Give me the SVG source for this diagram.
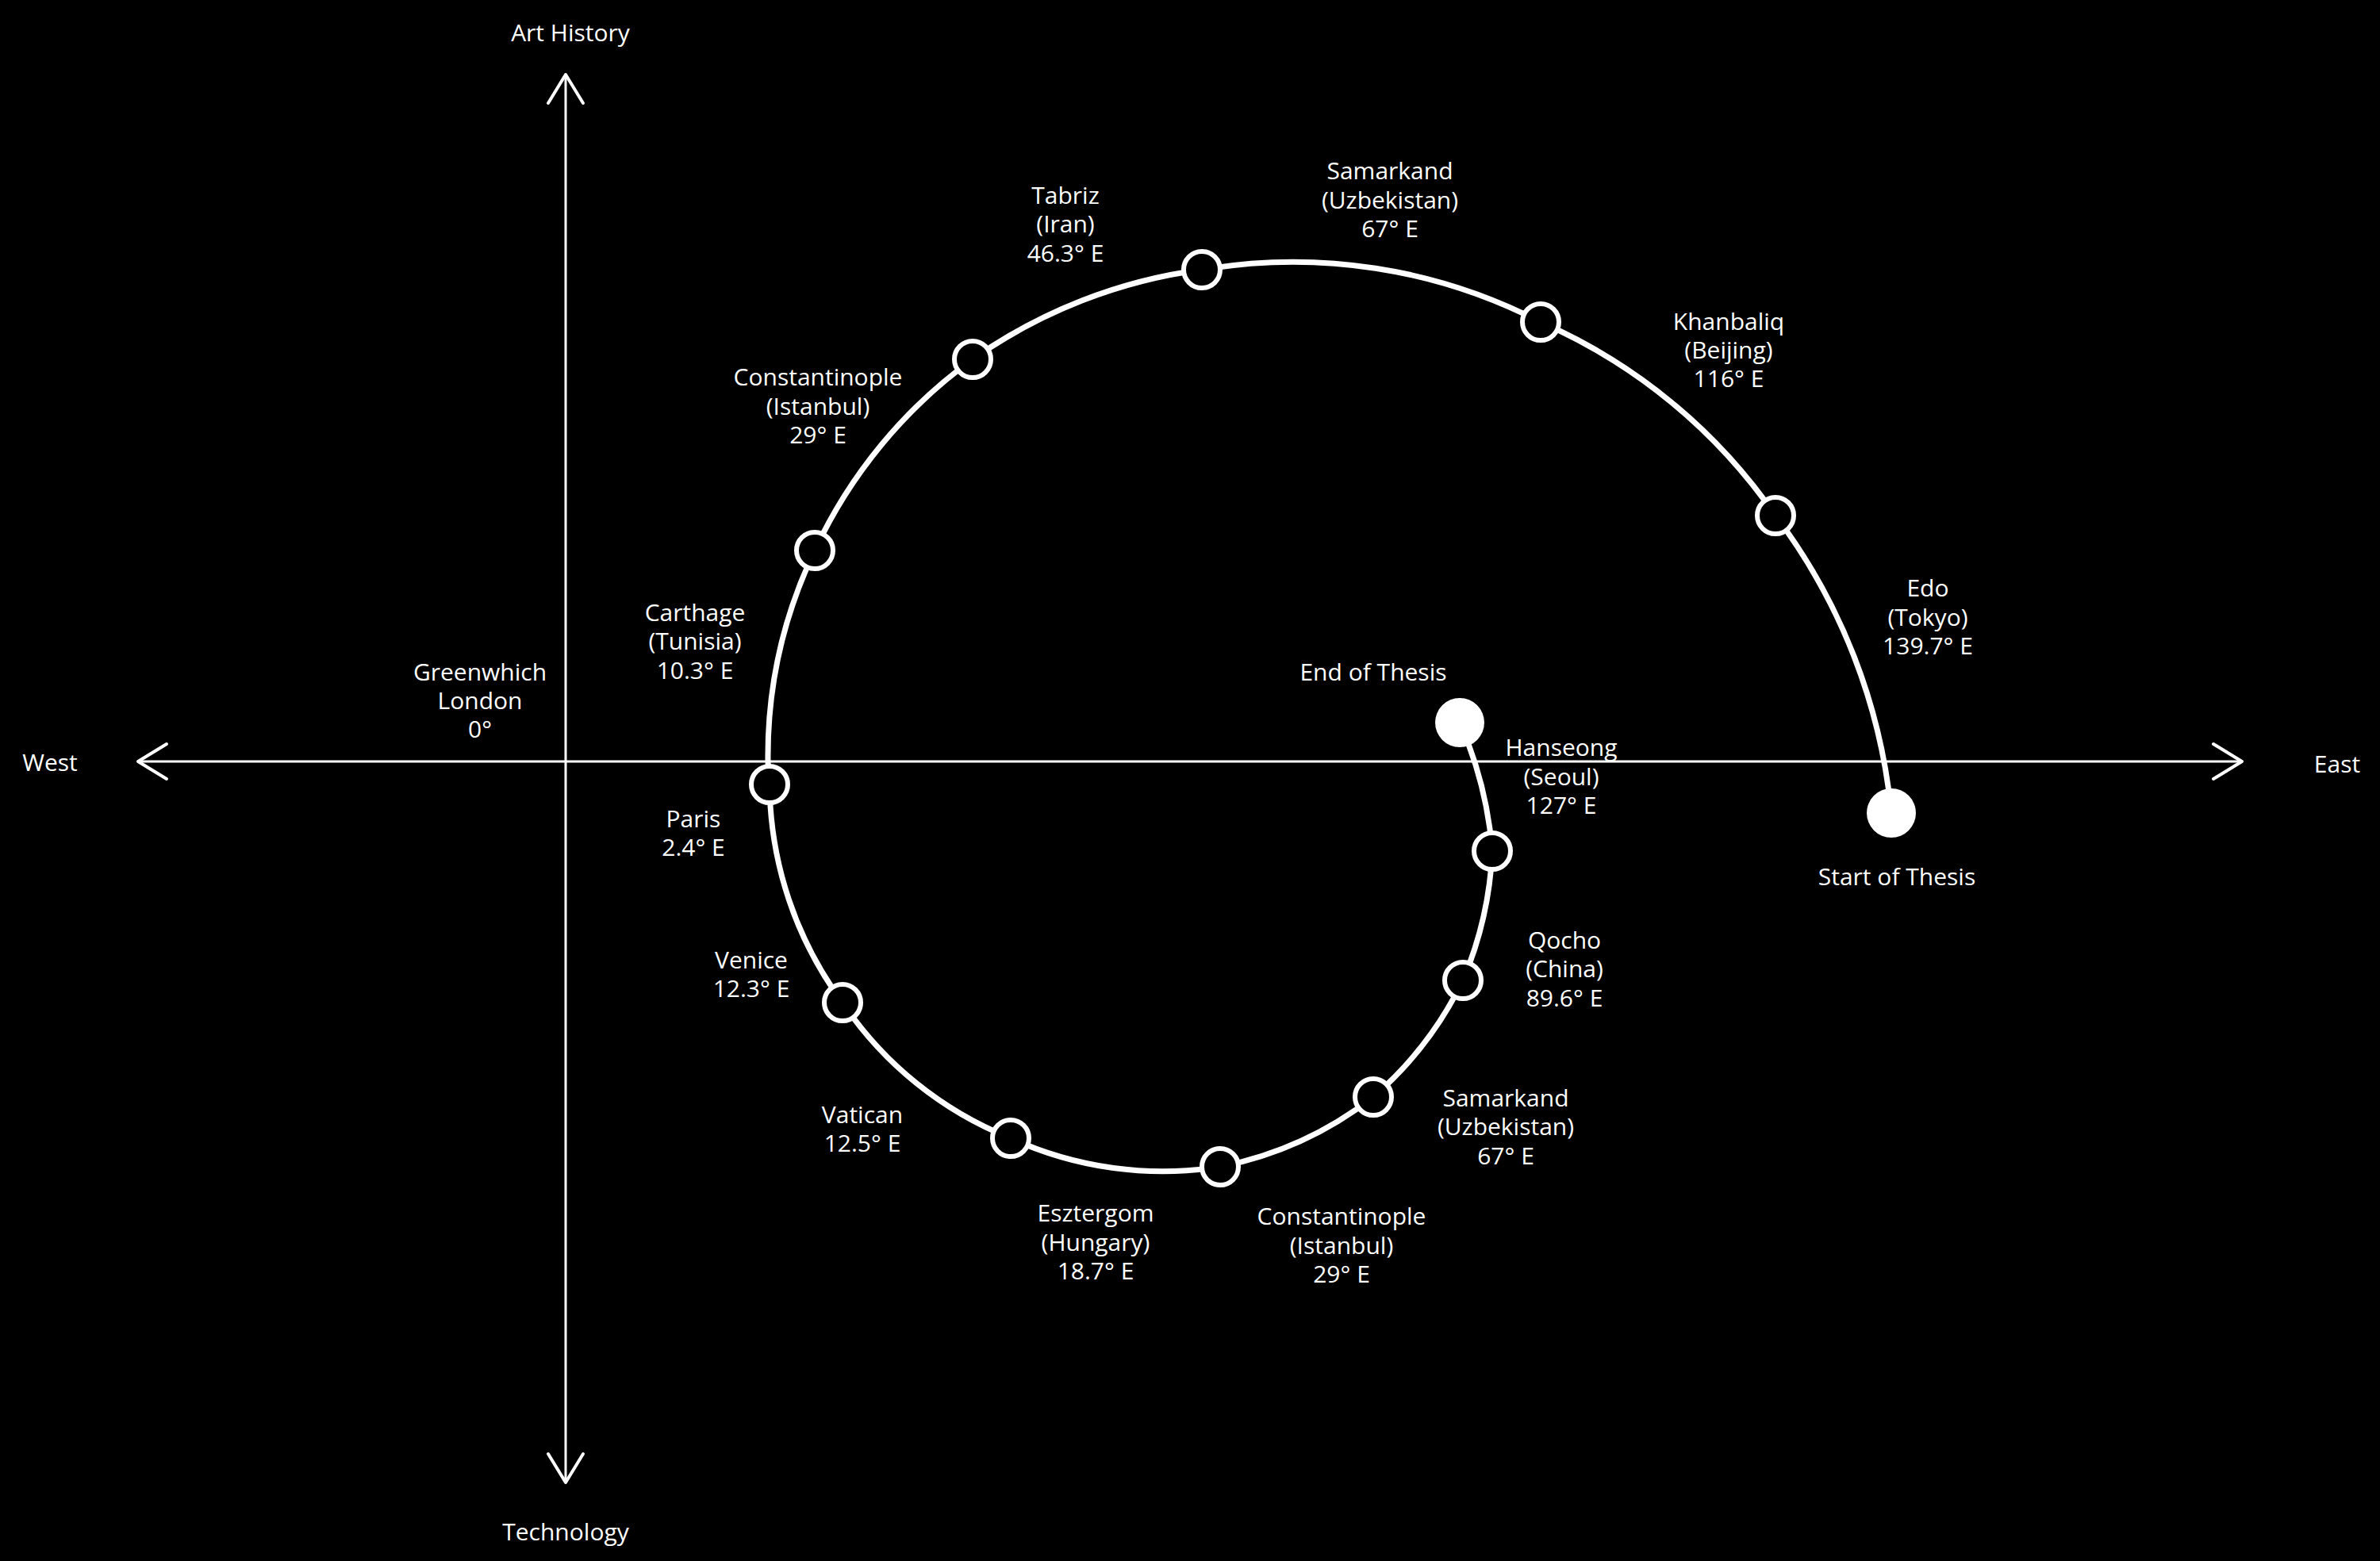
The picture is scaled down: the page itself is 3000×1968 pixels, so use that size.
<svg xmlns="http://www.w3.org/2000/svg" width="3000" height="1968" viewBox="0 0 3000 1968">
<style>
text{font-family:"Open Sans","Noto Sans",sans-serif;font-size:30px;fill:#fff;text-anchor:middle;dominant-baseline:central}
.ax{stroke:#fff;stroke-width:3;fill:none}
.hd{stroke:#fff;stroke-width:4;fill:none;stroke-linecap:round;stroke-linejoin:round}
.n{fill:#000;stroke:#fff;stroke-width:6}
.f{fill:#fff}
</style>
<rect width="3000" height="1968" fill="#000"/>
<g id="axes">
<line class="ax" x1="713" y1="94" x2="713" y2="1869"/>
<line class="ax" x1="174" y1="960" x2="2826" y2="960"/>
<polyline class="hd" points="691,130 713,94 735,130"/>
<polyline class="hd" points="691,1833 713,1869 735,1833"/>
<polyline class="hd" points="210,938 174,960 210,982"/>
<polyline class="hd" points="2790,938 2826,960 2790,982"/>
<text x="719" y="40">Art History</text>
<text x="713" y="1930">Technology</text>
<text x="63" y="960">West</text>
<text x="2946" y="962">East</text>
</g>
<g id="connectors">
<path fill="none" stroke="#fff" stroke-width="7" d="M2384,1025 A740,740 0 0 0 2238,650 A700,700 0 0 0 1942,406 A680,680 0 0 0 1515,340 A650,650 0 0 0 1226,453 A620,620 0 0 0 1027,694 A600,600 0 0 0 968,960 A500,500 0 0 0 970,989 A470,470 0 0 0 1062,1264 A460,460 0 0 0 1274,1435 A460,460 0 0 0 1538,1471 A460,460 0 0 0 1731,1383 A460,460 0 0 0 1844,1236 A470,470 0 0 0 1881,1073 A500,500 0 0 0 1840,911"/>
</g>
<g id="start"><circle class="f" cx="2384" cy="1025" r="31"/><text x="2391" y="1104">Start of Thesis</text></g>
<g id="end"><circle class="f" cx="1840" cy="911" r="31"/><text x="1731" y="846">End of Thesis</text></g>
<g id="greenwich"><text x="605" y="846">Greenwhich</text><text x="605" y="882">London</text><text x="605" y="918">0°</text></g>
<g id="edo"><text x="2430" y="740">Edo</text><text x="2430" y="777">(Tokyo)</text><text x="2430" y="813">139.7° E</text></g>
<g id="khanbaliq"><circle class="n" cx="2238" cy="650" r="23"/><text x="2179" y="404">Khanbaliq</text><text x="2179" y="440">(Beijing)</text><text x="2179" y="476">116° E</text></g>
<g id="samarkand1"><circle class="n" cx="1942" cy="406" r="23"/><text x="1752" y="214">Samarkand</text><text x="1752" y="251">(Uzbekistan)</text><text x="1752" y="287">67° E</text></g>
<g id="tabriz"><circle class="n" cx="1515" cy="340" r="23"/><text x="1343" y="245">Tabriz</text><text x="1343" y="281">(Iran)</text><text x="1343" y="318">46.3° E</text></g>
<g id="constantinople1"><circle class="n" cx="1226" cy="453" r="23"/><text x="1031" y="474">Constantinople</text><text x="1031" y="511">(Istanbul)</text><text x="1031" y="547">29° E</text></g>
<g id="carthage"><circle class="n" cx="1027" cy="694" r="23"/><text x="876" y="771">Carthage</text><text x="876" y="807">(Tunisia)</text><text x="876" y="844">10.3° E</text></g>
<g id="paris"><circle class="n" cx="970" cy="989" r="23"/><text x="874" y="1031">Paris</text><text x="874" y="1067">2.4° E</text></g>
<g id="venice"><circle class="n" cx="1062" cy="1264" r="23"/><text x="947" y="1209">Venice</text><text x="947" y="1245">12.3° E</text></g>
<g id="vatican"><circle class="n" cx="1274" cy="1435" r="23"/><text x="1087" y="1404">Vatican</text><text x="1087" y="1440">12.5° E</text></g>
<g id="esztergom"><text x="1381" y="1528">Esztergom</text><text x="1381" y="1565">(Hungary)</text><text x="1381" y="1601">18.7° E</text></g>
<g id="constantinople2"><circle class="n" cx="1538" cy="1471" r="23"/><text x="1691" y="1532">Constantinople</text><text x="1691" y="1569">(Istanbul)</text><text x="1691" y="1605">29° E</text></g>
<g id="samarkand2"><circle class="n" cx="1731" cy="1383" r="23"/><text x="1898" y="1383">Samarkand</text><text x="1898" y="1419">(Uzbekistan)</text><text x="1898" y="1456">67° E</text></g>
<g id="qocho"><circle class="n" cx="1844" cy="1236" r="23"/><text x="1972" y="1184">Qocho</text><text x="1972" y="1220">(China)</text><text x="1972" y="1257">89.6° E</text></g>
<g id="hanseong"><circle class="n" cx="1881" cy="1073" r="23"/><text x="1968" y="941">Hanseong</text><text x="1968" y="978">(Seoul)</text><text x="1968" y="1014">127° E</text></g>
</svg>
